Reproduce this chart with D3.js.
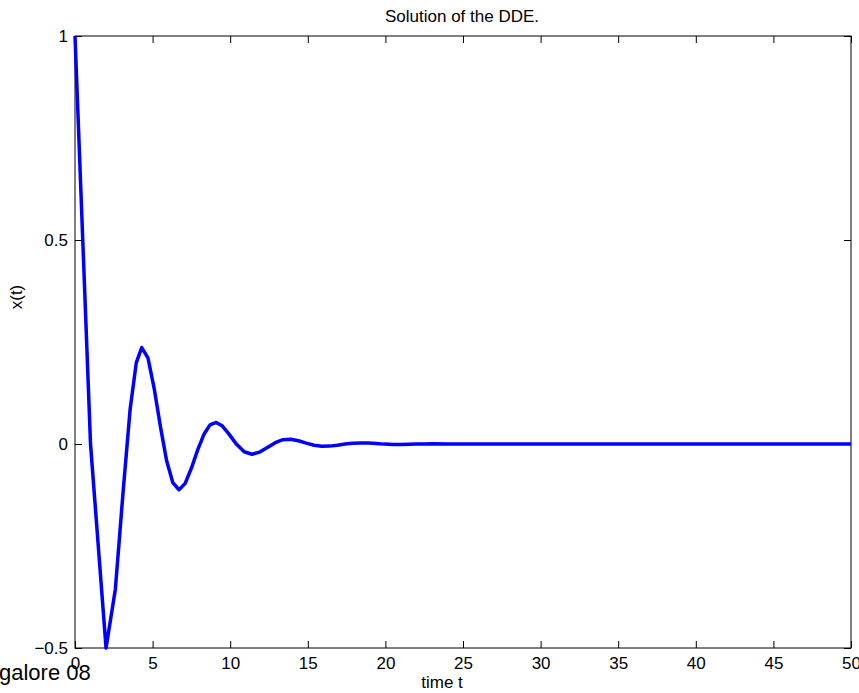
<!DOCTYPE html>
<html>
<head>
<meta charset="utf-8">
<script src="https://cdn.jsdelivr.net/npm/d3@7"></script>
<style>
  body { margin: 0; background: #fff; }
  svg { display: block; font-family: "Liberation Sans", Arial, sans-serif; }
  .tick text { font-size: 17px; fill: #000; }
</style>
</head>
<body>
<svg id="chart" width="859" height="693"></svg>
<script>
let width = 859;
let height = 693;

// solver output of the DDE
let times = [0, 1, 2, 2.6, 3.1, 3.55, 3.95, 4.3, 4.7, 5.1, 5.5, 5.9, 6.3, 6.7, 7.1, 7.5, 7.9,
  8.3, 8.7, 9.1, 9.5, 9.9, 10.4, 10.9, 11.4, 11.9, 12.4, 12.9, 13.4, 13.9, 14.4, 14.9,
  15.4, 15.9, 16.4, 16.9, 17.4, 17.9, 18.4, 18.9, 19.4, 19.9, 20.5, 21, 21.5, 22, 22.5,
  23, 24, 25, 26, 27, 28, 30, 35, 40, 45, 50];
let xValues = [1, 0, -0.5, -0.356, -0.1168, 0.0844, 0.1994, 0.2362, 0.211, 0.1365, 0.0433,
  -0.0403, -0.0946, -0.1121, -0.0965, -0.0593, -0.015, 0.0232, 0.0468, 0.0529, 0.0439,
  0.0255, -0.0003, -0.019, -0.0251, -0.0199, -0.0083, 0.0033, 0.0105, 0.0116, 0.0079,
  0.0021, -0.0029, -0.0054, -0.0052, -0.003, -0.0002, 0.0019, 0.0027, 0.0022, 0.001,
  -0.0003, -0.0012, -0.0012, -0.0008, -0.0002, 0.0003, 0.0006, 0.0003, -0.0002, -0.0002,
  0, 0, 0, 0, 0, 0, 0];

let xTicks = [0, 5, 10, 15, 20, 25, 30, 35, 40, 45, 50];
let yTicks = [-0.5, 0, 0.5, 1];

let plotLeft = 75, plotRight = 851, plotTop = 36, plotBottom = 648;

let x = d3.scaleLinear().domain([0, 50]).range([plotLeft, plotRight]);
let y = d3.scaleLinear().domain([-0.5, 1]).range([plotBottom, plotTop]);

let svg = d3.select("#chart");
svg.append("rect").attr("width", width).attr("height", height).attr("fill", "#fff");

let fmt = d => d < 0 ? "\u2212" + Math.abs(d) : String(d);

// axes with inward ticks, MATLAB style box
svg.append("g")
   .attr("transform", `translate(0,${plotBottom})`)
   .call(d3.axisBottom(x).tickValues(xTicks).tickFormat(fmt).tickSizeInner(-7).tickSizeOuter(0).tickPadding(9))
   .call(g => g.select(".domain").remove());
svg.append("g")
   .attr("transform", `translate(0,${plotTop})`)
   .call(d3.axisTop(x).tickValues(xTicks).tickFormat("").tickSizeInner(-7).tickSizeOuter(0))
   .call(g => g.select(".domain").remove());
svg.append("g")
   .attr("transform", `translate(${plotLeft},0)`)
   .call(d3.axisLeft(y).tickValues(yTicks).tickFormat(fmt).tickSizeInner(-7).tickSizeOuter(0).tickPadding(7))
   .call(g => g.select(".domain").remove());
svg.append("g")
   .attr("transform", `translate(${plotRight},0)`)
   .call(d3.axisRight(y).tickValues(yTicks).tickFormat("").tickSizeInner(-7).tickSizeOuter(0))
   .call(g => g.select(".domain").remove());

svg.selectAll(".tick line").attr("stroke", "#000");

svg.append("rect")
   .attr("x", plotLeft).attr("y", plotTop)
   .attr("width", plotRight - plotLeft).attr("height", plotBottom - plotTop)
   .attr("fill", "none").attr("stroke", "#000").attr("stroke-width", 1);

let points = times.map((t, i) => [t, xValues[i]]);
let line = d3.line().x(d => x(d[0])).y(d => y(d[1]));

svg.append("path")
   .datum(points)
   .attr("d", line)
   .attr("fill", "none")
   .attr("stroke", "#0000ff")
   .attr("stroke-width", 3.5)
   .attr("stroke-linejoin", "round");

svg.append("text")
   .attr("x", 462).attr("y", 22)
   .attr("text-anchor", "middle")
   .style("font-size", "17px")
   .text("Solution of the DDE.");

svg.append("text")
   .attr("x", 442).attr("y", 688)
   .attr("text-anchor", "middle")
   .style("font-size", "17px")
   .text("time t");

svg.append("text")
   .attr("transform", "translate(22,297) rotate(-90)")
   .attr("text-anchor", "middle")
   .style("font-size", "17px")
   .text("x(t)");

svg.append("text")
   .attr("x", -1).attr("y", 680)
   .style("font-size", "22px")
   .text("galore 08");
</script>
</body>
</html>
